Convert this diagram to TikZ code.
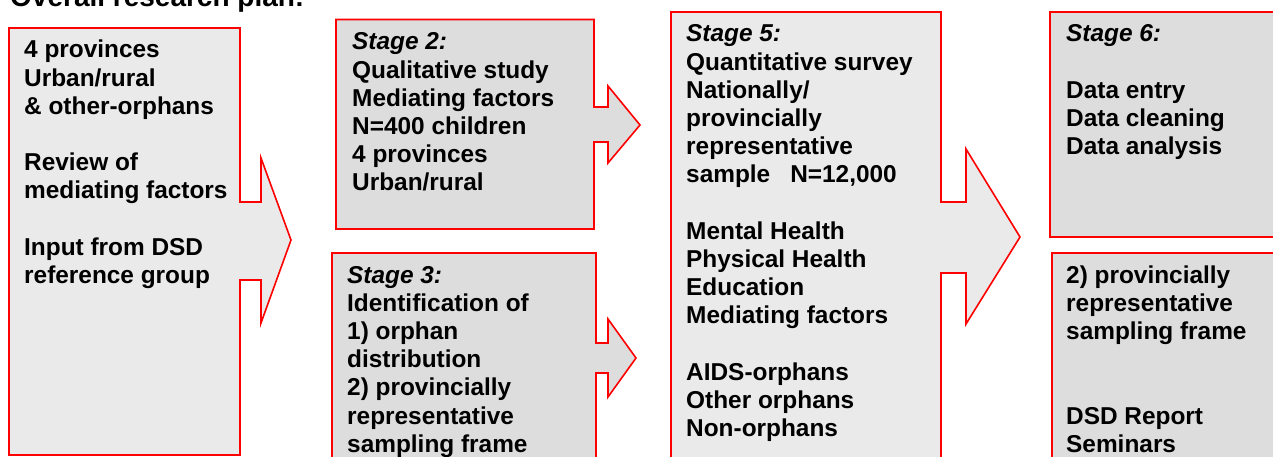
\documentclass[tikz,border=0pt]{standalone}
\usepackage{fontspec}
\setmainfont{Liberation Sans}
\definecolor{lightfill}{HTML}{EAEAEA}
\definecolor{midfill}{HTML}{DDDDDD}
\definecolor{boxred}{HTML}{FF0000}
\tikzset{
  shapebox/.style={draw=boxred, line width=1.6pt, line join=miter},
  txt/.style={anchor=base west, inner sep=0pt, font=\bfseries\fontsize{24.4}{28.2}\selectfont},
  titletxt/.style={anchor=base west, inner sep=0pt, font=\bfseries\fontsize{28}{32}\selectfont},
}
\newcommand{\boxlines}[1]{\parbox[t]{12cm}{\raggedright #1}}
\begin{document}
\begin{tikzpicture}[x=1pt,y=-1pt]
\useasboundingbox (0,0) rectangle (1273,457);
\clip (0,0) rectangle (1273,457);
% title (cut off at the top)
\node[titletxt] (title) at (10,7) {Overall research plan:};
% stage 1 block arrow
\path[shapebox, fill=lightfill] (9,28) -- (240,28) -- (240,202) -- (261,202) -- (261,158)
  -- (291,240) -- (261,323) -- (261,280) -- (240,280) -- (240,455) -- (9,455) -- cycle;
% stage 2 block arrow
\path[shapebox, fill=midfill] (336,19.5) -- (594,19.5) -- (594,107) -- (608,107) -- (608,86)
  -- (640,125) -- (608,163) -- (608,142) -- (594,142) -- (594,229) -- (336,229) -- cycle;
% stage 3 block arrow
\path[shapebox, fill=midfill] (332,253) -- (596,253) -- (596,343) -- (608,343) -- (608,319)
  -- (636,358) -- (608,397) -- (608,373) -- (596,373) -- (596,475) -- (332,475) -- cycle;
% stage 5 block arrow
\path[shapebox, fill=lightfill] (671,12) -- (941,12) -- (941,202) -- (966,202) -- (966,149)
  -- (1020,237) -- (966,324) -- (966,273) -- (941,273) -- (941,475) -- (671,475) -- cycle;
% stage 6 boxes
\path[shapebox, fill=midfill] (1050,12) rectangle (1290,237);
\path[shapebox, fill=midfill] (1052,253) rectangle (1290,475);
% texts
\node[txt] (t1) at (24,58) {\boxlines{4 provinces\\Urban/rural\\\& other-orphans\\[28.2pt]Review of\\mediating factors\\[28.2pt]Input from DSD\\reference group}};
\node[txt] (t2) at (352,50) {\boxlines{\textit{Stage 2:}\\Qualitative study\\Mediating factors\\N=400 children\\4 provinces\\Urban/rural}};
\node[txt] (t3) at (347,283) {\boxlines{\textit{Stage 3:}\\Identification of\\1) orphan\\distribution\\2) provincially\\representative\\sampling frame}};
\node[txt] (t5) at (686,42) {\boxlines{\textit{Stage 5:}\\Quantitative survey\\Nationally/\\provincially\\representative\\sample\hspace{20pt}N=12,000\\[28.2pt]Mental Health\\Physical Health\\Education\\Mediating factors\\[28.2pt]AIDS-orphans\\Other orphans\\Non-orphans}};
\node[txt] (t6) at (1066,42) {\boxlines{\textit{Stage 6:}\\[28.2pt]Data entry\\Data cleaning\\Data analysis}};
\node[txt] (t7) at (1066,283) {\boxlines{2) provincially\\representative\\sampling frame\\[56.4pt]DSD Report\\Seminars}};
\end{tikzpicture}
\end{document}
